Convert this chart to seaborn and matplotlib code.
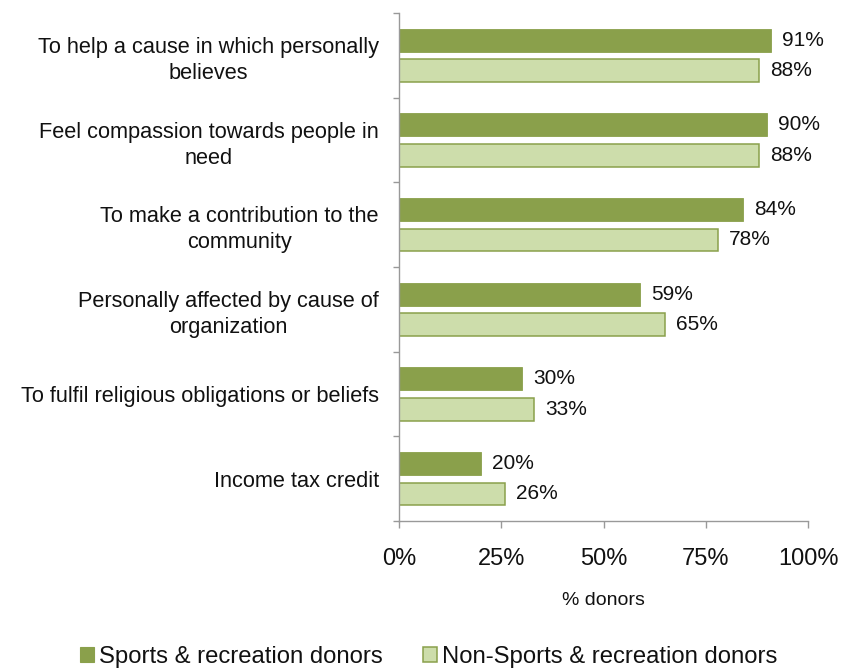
import matplotlib
matplotlib.use("Agg")
import matplotlib.pyplot as plt
import numpy as np
import pandas as pd
import seaborn as sns

# Reasons for giving, top to bottom
reasons = [
    "To help a cause in which personally\nbelieves",
    "Feel compassion towards people in\nneed",
    "To make a contribution to the\ncommunity",
    "Personally affected by cause of\norganization",
    "To fulfil religious obligations or beliefs",
    "Income tax credit",
]
sports_donors = [91, 90, 84, 59, 30, 20]
non_sports_donors = [88, 88, 78, 65, 33, 26]
groups = ["Sports & recreation donors", "Non-Sports & recreation donors"]
x_ticks = [0, 25, 50, 75, 100]
x_tick_labels = ["0%", "25%", "50%", "75%", "100%"]
x_label = "% donors"

dark_green = "#8AA04B"
light_green = "#CDDDAB"
edge_green = "#8AA04B"

df = pd.DataFrame({
    "reason": reasons * 2,
    "pct": sports_donors + non_sports_donors,
    "group": [groups[0]] * len(reasons) + [groups[1]] * len(reasons),
})

sns.set_theme(style="white")
plt.rcParams["font.family"] = ["Liberation Sans", "DejaVu Sans"]

fig = plt.figure(figsize=(8.41, 6.71), dpi=100)
ax = fig.add_axes([0.4745, 0.2235, 0.4863, 0.757])

sns.barplot(
    data=df, x="pct", y="reason", hue="group", order=reasons, hue_order=groups,
    palette=[dark_green, light_green], orient="h", width=0.72, gap=0.25,
    saturation=1, legend=False, ax=ax,
)

for bar in ax.containers[0]:
    bar.set_edgecolor(dark_green)
    bar.set_linewidth(0.6)
for bar in ax.containers[1]:
    bar.set_edgecolor(edge_green)
    bar.set_linewidth(1.1)

for cont in ax.containers:
    ax.bar_label(cont, fmt="%d%%", padding=8, fontsize=15, color="#111111")

ax.set_xlim(0, 100)
ax.set_ylim(len(reasons) - 0.5, -0.5)
ax.set_xticks(x_ticks)
ax.set_xticklabels(x_tick_labels, fontsize=17, color="#111111")
ax.set_xlabel(x_label, fontsize=14, color="#111111", labelpad=16)
ax.set_ylabel("")
ax.set_yticks(range(len(reasons)))
ax.set_yticklabels(reasons, fontsize=15.7, color="#111111", multialignment="center",
                   linespacing=1.32)
ax.set_yticks(np.arange(-0.5, len(reasons), 1.0), minor=True)

ax.tick_params(axis="y", which="major", length=0, pad=14.5)
ax.tick_params(axis="y", which="minor", left=True, length=4.5, width=1, color="#999999", direction="out")
ax.tick_params(axis="x", which="major", bottom=True, length=5, width=1, color="#999999", direction="out", pad=14.5)

for side in ["top", "right"]:
    ax.spines[side].set_visible(False)
for side in ["left", "bottom"]:
    ax.spines[side].set_color("#999999")
    ax.spines[side].set_linewidth(1)

handles = [
    plt.Rectangle((0, 0), 1, 1, facecolor=dark_green, edgecolor=dark_green, linewidth=0.8),
    plt.Rectangle((0, 0), 1, 1, facecolor=light_green, edgecolor=edge_green, linewidth=1.1),
]
fig.legend(
    handles, groups, loc="center", bbox_to_anchor=(0.5095, 0.021), ncol=2, frameon=False,
    fontsize=17.2, handlelength=0.6, handleheight=0.6, handletextpad=0.2, columnspacing=1.7,
    labelcolor="#111111",
)

fig.savefig("out.png", dpi=100)
